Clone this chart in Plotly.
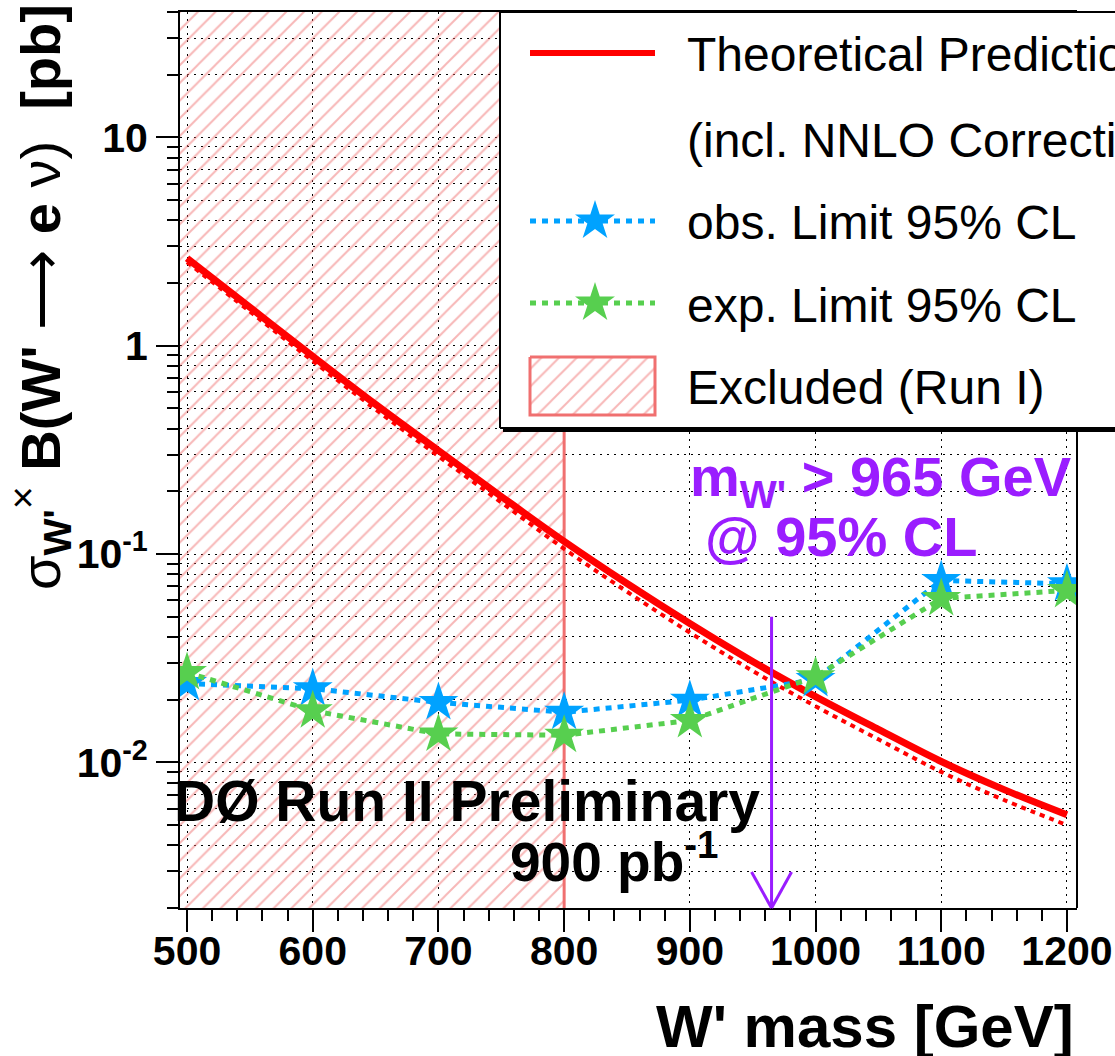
import math
import plotly.graph_objects as go

# ---------------- data ----------------
MASS = [500, 600, 700, 800, 900, 1000, 1100, 1200]
OBS_LIMIT = [0.0239, 0.0226, 0.0194, 0.0174, 0.0199, 0.0250, 0.0747, 0.0720]
EXP_LIMIT = [0.0270, 0.0177, 0.0137, 0.0135, 0.0159, 0.0258, 0.0612, 0.0669]

MASS_THEORY = [500, 550, 600, 650, 700, 750, 800, 850, 900, 950, 1000, 1050, 1100, 1150, 1200]
XSEC_THEORY = [2.63, 1.53, 0.89, 0.523, 0.314, 0.189, 0.115, 0.0722, 0.0464, 0.0305,
               0.0207, 0.0144, 0.0101, 0.0074, 0.0056]
XSEC_THEORY_LOW = [2.52, 1.46, 0.845, 0.495, 0.295, 0.177, 0.106, 0.066, 0.042, 0.0275,
                   0.0186, 0.0129, 0.0090, 0.0066, 0.0050]

RUN1_EXCLUDED_MAX = 800      # GeV, Run I exclusion
MASS_LIMIT = 965             # GeV, observed limit
ARROW_TOP = 0.05             # pb, top of the limit arrow

X_RANGE = [494.4, 1208]
Y_RANGE = [0.002, 40]
X_TICKS = [500, 600, 700, 800, 900, 1000, 1100, 1200]
Y_TICKS = [0.01, 0.1, 1, 10]
Y_TICK_TEXT = ["10<sup>-2</sup>", "10<sup>-1</sup>", "1", "10"]
Y_MINOR = [m * 10 ** e for e in range(-3, 2) for m in range(2, 10)
           if Y_RANGE[0] <= m * 10 ** e <= Y_RANGE[1]]

LEGEND_TEXT = ["Theoretical Prediction", "(incl. NNLO Corrections)",
               "obs. Limit 95% CL", "exp. Limit 95% CL", "Excluded (Run I)"]

# ---------------- layout geometry (pixels) ----------------
W, H = 1115, 1056
FL, FR, FT, FB = 180, 1077, 12, 908   # frame
PW, PH = FR - FL, FB - FT

def px(xp):   # pixel -> paper x
    return (xp - FL) / PW

def py(yp):   # pixel -> paper y
    return (FB - yp) / PH

def ypaper_from_data(v):
    lo, hi = math.log10(Y_RANGE[0]), math.log10(Y_RANGE[1])
    return (math.log10(v) - lo) / (hi - lo)

RED = "#ff0000"
BLUE = "#00a2ff"
GREEN = "#57cf4f"
SALMON = "#f07070"
PURPLE = "#9a1dff"
FONT = "Liberation Sans, Arial, sans-serif"

fig = go.Figure()

# excluded region (hatched)
fig.add_trace(go.Scatter(
    x=[X_RANGE[0], RUN1_EXCLUDED_MAX, RUN1_EXCLUDED_MAX, X_RANGE[0], X_RANGE[0]],
    y=[Y_RANGE[0], Y_RANGE[0], Y_RANGE[1], Y_RANGE[1], Y_RANGE[0]],
    mode="lines", fill="toself", fillcolor="rgba(0,0,0,0)",
    fillpattern=dict(shape="/", fgcolor=SALMON, bgcolor="rgba(0,0,0,0)",
                     size=12.5, solidity=0.16),
    line=dict(width=0), hoverinfo="skip"))
fig.add_trace(go.Scatter(
    x=[RUN1_EXCLUDED_MAX, RUN1_EXCLUDED_MAX], y=Y_RANGE, mode="lines",
    line=dict(color=SALMON, width=3), hoverinfo="skip"))

# theory
fig.add_trace(go.Scatter(x=MASS_THEORY, y=XSEC_THEORY_LOW, mode="lines",
                         line=dict(color=RED, width=4, dash="5px,5px", shape="spline")))
fig.add_trace(go.Scatter(x=MASS_THEORY, y=XSEC_THEORY, mode="lines",
                         line=dict(color=RED, width=7, shape="spline")))

# limits
fig.add_trace(go.Scatter(x=MASS, y=OBS_LIMIT, mode="lines+markers",
                         line=dict(color=BLUE, width=5, dash="6px,6px"),
                         marker=dict(symbol="star", size=30, color=BLUE)))
fig.add_trace(go.Scatter(x=MASS, y=EXP_LIMIT, mode="lines+markers",
                         line=dict(color=GREEN, width=5, dash="6px,6px"),
                         marker=dict(symbol="star", size=30, color=GREEN)))

# ---------------- legend drawn on a pixel overlay axis ----------------
LX0, LY0, LY1 = 500, 12, 428
fig.add_trace(go.Scatter(x=[LX0, FR + 5, FR + 5, LX0, LX0], y=[LY0, LY0, LY1, LY1, LY0],
                         xaxis="x2", yaxis="y2", mode="lines", fill="toself",
                         fillcolor="white", line=dict(width=0), hoverinfo="skip"))
S0, S1, SM = 530, 655, 595
ROWS = [53, 138, 221, 303, 386]
fig.add_trace(go.Scatter(x=[S0, S1], y=[ROWS[0], ROWS[0]], xaxis="x2", yaxis="y2",
                         mode="lines", line=dict(color=RED, width=6)))
for row, col in ((ROWS[2], BLUE), (ROWS[3], GREEN)):
    fig.add_trace(go.Scatter(x=[S0, S1], y=[row, row], xaxis="x2", yaxis="y2",
                             mode="lines", line=dict(color=col, width=5, dash="6px,6px")))
    fig.add_trace(go.Scatter(x=[SM], y=[row], xaxis="x2", yaxis="y2", mode="markers",
                             marker=dict(symbol="star", size=30, color=col)))
fig.add_trace(go.Scatter(x=[S0, S1, S1, S0, S0], y=[357, 357, 415, 415, 357],
                         xaxis="x2", yaxis="y2", mode="lines", fill="toself",
                         fillcolor="rgba(0,0,0,0)",
                         fillpattern=dict(shape="/", fgcolor=SALMON, bgcolor="rgba(0,0,0,0)",
                                          size=12.5, solidity=0.16),
                         line=dict(color=SALMON, width=3), hoverinfo="skip"))

shapes = [
    # legend borders
    dict(type="line", xref="paper", yref="paper", x0=px(LX0), x1=px(LX0), y0=py(LY0), y1=py(LY1),
         line=dict(color="black", width=2)),
    dict(type="line", xref="paper", yref="paper", x0=px(LX0), x1=px(1130), y0=py(LY0), y1=py(LY0),
         line=dict(color="black", width=2)),
    dict(type="line", xref="paper", yref="paper", x0=px(LX0), x1=px(1130), y0=py(LY1), y1=py(LY1),
         line=dict(color="black", width=2)),
    dict(type="rect", xref="paper", yref="paper", x0=px(LX0 + 3), x1=px(1130), y0=py(LY1 + 1),
         y1=py(LY1 + 4), fillcolor="black", line=dict(width=0)),
    # right frame line below the legend
    dict(type="line", xref="paper", yref="paper", x0=1, x1=1, y0=0, y1=py(LY1 + 4),
         line=dict(color="black", width=2)),
    # limit arrow
    dict(type="line", xref="x", yref="paper", x0=MASS_LIMIT, x1=MASS_LIMIT,
         y0=0, y1=ypaper_from_data(ARROW_TOP), line=dict(color=PURPLE, width=3)),
    dict(type="line", xref="x", xsizemode="pixel", xanchor=MASS_LIMIT, x0=-20, x1=0,
         yref="paper", y0=36 / PH, y1=0, line=dict(color=PURPLE, width=3)),
    dict(type="line", xref="x", xsizemode="pixel", xanchor=MASS_LIMIT, x0=20, x1=0,
         yref="paper", y0=36 / PH, y1=0, line=dict(color=PURPLE, width=3)),
]

def ann(text, x, y, size, xanchor="left", color="black", angle=0, yanchor="middle"):
    return dict(text=text, xref="paper", yref="paper", x=px(x), y=py(y), xanchor=xanchor,
                yanchor=yanchor, showarrow=False, textangle=angle,
                font=dict(family=FONT, size=size, color=color))

annotations = [
    ann("σ<sub><b>W'</b></sub><sup>×</sup> <b>B(W'</b> ⟶ <b>e</b> ν)  <b>[pb]</b>", 40, 2, 56,
        xanchor="center", angle=-90, yanchor="top"),
    ann("<b>W' mass [GeV]</b>", 1076, 1026, 60, xanchor="right"),
    ann("<b>DØ Run II Preliminary</b>", 172, 801, 57),
    ann("<b>900 pb<sup>-1</sup></b>", 508, 858, 55),
    ann("<b>m<sub>W'</sub> > 965 GeV</b>", 688, 480, 56, color=PURPLE),
    ann("<b>@ 95% CL</b>", 703, 536, 56, color=PURPLE),
]
for txt, row in zip(LEGEND_TEXT, ROWS):
    annotations.append(ann(txt, 685, row + 2, 48))

axis_font = dict(family=FONT, size=41, color="black", weight="bold")
GRID_DASH = "2px,5px"

fig.update_layout(
    width=W, height=H,
    margin=dict(l=FL, r=W - FR, t=FT, b=H - FB, autoexpand=False),
    paper_bgcolor="white", plot_bgcolor="white",
    showlegend=False,
    xaxis=dict(range=X_RANGE, tickmode="array", tickvals=X_TICKS, ticks="outside",
               ticklen=22, tickwidth=2, tickcolor="black", tickfont=axis_font,
               ticklabelstandoff=-16,
               showline=True, linecolor="black", linewidth=2, mirror=True,
               showgrid=True, gridcolor="black", gridwidth=1, griddash=GRID_DASH,
               zeroline=False,
               minor=dict(tick0=500, dtick=20, ticks="outside", ticklen=11, tickwidth=2,
                          tickcolor="black", showgrid=False)),
    yaxis=dict(type="log", range=[math.log10(Y_RANGE[0]), math.log10(Y_RANGE[1])],
               tickmode="array", tickvals=Y_TICKS, ticktext=Y_TICK_TEXT, ticks="outside",
               ticklen=22, tickwidth=2, tickcolor="black", tickfont=axis_font,
               showline=True, linecolor="black", linewidth=2, mirror=False,
               showgrid=True, gridcolor="black", gridwidth=1, griddash=GRID_DASH,
               zeroline=False,
               minor=dict(tickmode="array", tickvals=Y_MINOR, ticks="outside", ticklen=11,
                          tickwidth=2, tickcolor="black", showgrid=True, gridcolor="black",
                          gridwidth=1, griddash=GRID_DASH)),
    xaxis2=dict(overlaying="x", anchor="y2", range=[FL, FR], visible=False, fixedrange=True),
    yaxis2=dict(overlaying="y", anchor="x2", range=[FB, FT], visible=False, fixedrange=True),
    shapes=shapes,
    annotations=annotations,
)

fig.write_html("out.html")
